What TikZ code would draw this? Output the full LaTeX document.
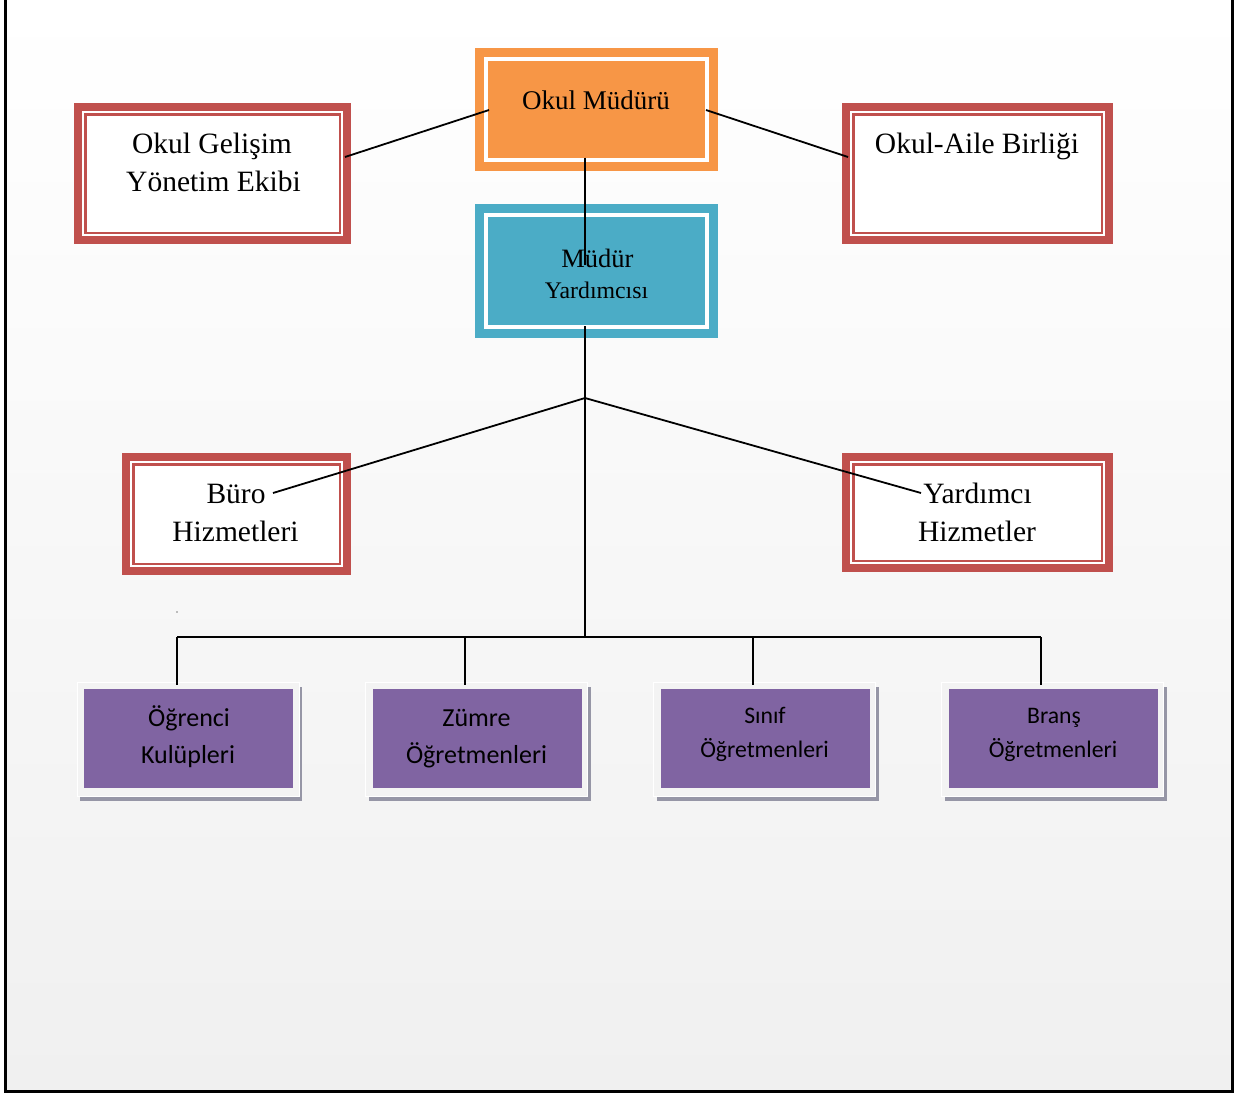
\documentclass[tikz,border=0pt]{standalone}
\usepackage{fontspec}
\setmainfont{Liberation Serif}
\newfontfamily\calibri{Carlito}
\definecolor{boxred}{HTML}{C0504D}
\definecolor{boxorange}{HTML}{F79646}
\definecolor{boxteal}{HTML}{4BACC6}
\definecolor{boxpurple}{HTML}{8064A2}
\definecolor{bgbot}{HTML}{F0F0F0}
\definecolor{shadowc}{RGB}{150,150,166}
\definecolor{framec}{HTML}{F3F3F3}
\tikzset{
  redbox/.style={rectangle, inner sep=0pt, fill=boxred,
    path picture={
      \fill[white] ([shift={(8pt,-8pt)}]path picture bounding box.north west) rectangle ([shift={(-8pt,8pt)}]path picture bounding box.south east);
      \draw[boxred,line width=2.4pt] ([shift={(11.3pt,-11.3pt)}]path picture bounding box.north west) rectangle ([shift={(-11.3pt,11.3pt)}]path picture bounding box.south east);
    }},
  colbox/.style={rectangle, inner sep=0pt, fill=#1,
    path picture={
      \draw[white,line width=4.5pt] ([shift={(11pt,-11pt)}]path picture bounding box.north west) rectangle ([shift={(-11pt,11pt)}]path picture bounding box.south east);
    }},
  pshadow/.style={rectangle, inner sep=0pt, fill=shadowc, minimum width=222pt, minimum height=114pt},
  pframe/.style={rectangle, inner sep=0pt, fill=framec, draw=white, line width=0.8pt, minimum width=222pt, minimum height=114pt},
  pbox/.style={rectangle, inner sep=0pt, fill=boxpurple, minimum width=209pt, minimum height=99pt},
  conn/.style={draw=black, line width=1.8pt},
  txt/.style={anchor=base, inner sep=0pt, text=black},
  redtxt/.style={txt, font=\fontsize{29.5}{34}\selectfont},
  ptxtA/.style={txt, font=\calibri\fontsize{26}{30}\selectfont},
  ptxtB/.style={txt, font=\calibri\fontsize{23.7}{28}\selectfont},
}
\begin{document}
\begin{tikzpicture}[x=1pt,y=-1pt]
\useasboundingbox (0,0) rectangle (1251,1093);
% background and frame
\shade[top color=white, bottom color=bgbot] (5,0) rectangle (1232,1091);
\draw[line width=3pt] (5,-3) -- (5,1091) -- (1232,1091) -- (1232,-3);

% top boxes
\node[colbox=boxorange, minimum width=243pt, minimum height=123pt] (om) at (596.5,109.5) {};
\node[colbox=boxteal, minimum width=243pt, minimum height=134pt] (my) at (596.5,271) {};
\node[redbox, minimum width=277pt, minimum height=141pt] (og) at (212.5,173.5) {};
\node[redbox, minimum width=271pt, minimum height=141pt] (oa) at (977.5,173.5) {};
\node[redbox, minimum width=229pt, minimum height=122pt] (bh) at (236.5,514) {};
\node[redbox, minimum width=271pt, minimum height=119pt] (yh) at (977.5,512.5) {};

% bottom purple boxes
\foreach \n/\cx in {p1/188.5, p2/477, p3/765, p4/1053}{
  \node[pshadow] (\n s) at (\cx+2.5,743.5) {};
  \node[pframe] (\n f) at (\cx-0.5,739.5) {};
  \node[pbox] (\n) at (\cx,738.5) {};
}

% connector points
\coordinate (omL) at (489,110);
\coordinate (omR) at (706,110);
\coordinate (ogR) at (345,157);
\coordinate (oaL) at (848,157);
\coordinate (omB) at (585,157.5);
\coordinate (myT) at (585,265);
\coordinate (myB) at (585,326);
\coordinate (jn) at (585,398);
\coordinate (bhE) at (273,493);
\coordinate (yhE) at (921,493);
\coordinate (hb) at (585,637);
\coordinate (h1) at (177,637);
\coordinate (h4) at (1041,637);
\coordinate (d1) at (177,685);
\coordinate (d2t) at (465,637);
\coordinate (d2) at (465,685);
\coordinate (d3t) at (753,637);
\coordinate (d3) at (753,685);
\coordinate (d4) at (1041,685);

\draw[conn] (omL) -- (ogR);
\draw[conn] (omR) -- (oaL);
\draw[conn] (omB) -- (myT);
\draw[conn] (myB) -- (hb);
\draw[conn] (jn) -- (bhE);
\draw[conn] (jn) -- (yhE);
\draw[conn] (h1) -- (h4);
\draw[conn] (h1) -- (d1);
\draw[conn] (d2t) -- (d2);
\draw[conn] (d3t) -- (d3);
\draw[conn] (h4) -- (d4);
\fill[gray] (177,612) circle (0.9pt);

% texts
\node[txt, font=\fontsize{27}{32}\selectfont] (t-om) at (596,109.3) {Okul Müdürü};
\node[txt, font=\fontsize{26.5}{31}\selectfont] (t-my1) at (597.5,267) {Müdür};
\node[txt, font=\fontsize{23.8}{28}\selectfont] (t-my2) at (596.5,298.7) {Yardımcısı};
\node[redtxt] (t-og1) at (212,153.3) {Okul Gelişim};
\node[redtxt] (t-og2) at (213.5,191.3) {Yönetim Ekibi};
\node[redtxt] (t-oa) at (977,153.7) {Okul-Aile Birliği};
\node[redtxt] (t-bh1) at (236,503.7) {Büro};
\node[redtxt] (t-bh2) at (235.5,541.7) {Hizmetleri};
\node[redtxt] (t-yh1) at (977.5,503.7) {Yardımcı};
\node[redtxt] (t-yh2) at (977,541.7) {Hizmetler};

\node[ptxtA] (t-p1a) at (189,726) {Öğrenci};
\node[ptxtA] (t-p1b) at (188,763.7) {Kulüpleri};
\node[ptxtA] (t-p2a) at (476.5,726) {Zümre};
\node[ptxtA] (t-p2b) at (476.5,763.7) {Öğretmenleri};
\node[ptxtB] (t-p3a) at (765,723.7) {Sınıf};
\node[ptxtB] (t-p3b) at (764.5,757) {Öğretmenleri};
\node[ptxtB] (t-p4a) at (1054,723.7) {Branş};
\node[ptxtB] (t-p4b) at (1053,757) {Öğretmenleri};
\end{tikzpicture}
\end{document}
